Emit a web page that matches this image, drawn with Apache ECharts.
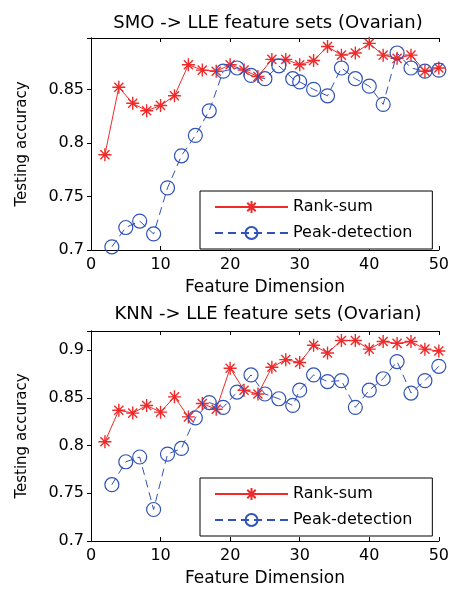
<!DOCTYPE html>
<html>
<head>
<meta charset="utf-8">
<script src="https://cdn.jsdelivr.net/npm/echarts@6/dist/echarts.min.js"></script>
<style>
  html, body { margin: 0; padding: 0; background: #fff; }
  #chart { width: 452px; height: 590px; }
</style>
</head>
<body>
<div id="chart"></div>
<script>
// feature dimensions
var rankX = [2, 4, 6, 8, 10, 12, 14, 16, 18, 20, 22, 24, 26, 28, 30, 32, 34, 36, 38, 40, 42, 44, 46, 48, 50];
var peakX = [3, 5, 7, 9, 11, 13, 15, 17, 19, 21, 23, 25, 27, 29, 30, 32, 34, 36, 38, 40, 42, 44, 46, 48, 50];

// SMO -> LLE
var smoRank = [0.789, 0.852, 0.837, 0.830, 0.835, 0.844, 0.873, 0.868, 0.867, 0.873, 0.868, 0.862, 0.878,
               0.878, 0.873, 0.877, 0.890, 0.882, 0.884, 0.893, 0.882, 0.879, 0.882, 0.867, 0.870];
var smoPeak = [0.703, 0.721, 0.727, 0.715, 0.758, 0.788, 0.807, 0.830, 0.867, 0.870, 0.863, 0.860, 0.872,
               0.860, 0.857, 0.850, 0.844, 0.870, 0.860, 0.853, 0.836, 0.884, 0.870, 0.867, 0.868];

// KNN -> LLE
var knnRank = [0.804, 0.837, 0.834, 0.842, 0.835, 0.851, 0.830, 0.844, 0.838, 0.881, 0.858, 0.854, 0.882,
               0.890, 0.887, 0.905, 0.897, 0.910, 0.910, 0.901, 0.909, 0.907, 0.909, 0.901, 0.899];
var knnPeak = [0.759, 0.783, 0.788, 0.733, 0.791, 0.797, 0.829, 0.845, 0.840, 0.856, 0.874, 0.854, 0.849,
               0.842, 0.858, 0.874, 0.867, 0.868, 0.840, 0.858, 0.870, 0.888, 0.855, 0.868, 0.883];

var titles = ['SMO -> LLE feature sets (Ovarian)', 'KNN -> LLE feature sets (Ovarian)'];
var seriesNames = ['Rank-sum', 'Peak-detection'];
var yMax = [0.898, 0.92];

var FONT = 'DejaVu Sans';
var RED = '#f02a2a';
var BLUE = '#3152b6';
var STAR = 'path://M5,0 L5,10 M0,5 L10,5 M1.5,1.5 L8.5,8.5 M1.5,8.5 L8.5,1.5';

function pairs(xs, ys) {
    return xs.map(function (x, i) { return [x, ys[i]]; });
}

var grids = [
    {left: 91, top: 38, width: 349, height: 212},
    {left: 91, top: 331, width: 349, height: 210}
];

var option = {
    animation: false,
    backgroundColor: '#fff',
    title: [],
    legend: [],
    grid: grids,
    xAxis: [],
    yAxis: [],
    series: []
};

var legendTops = [191, 478];
var titleTops = [9, 300];
var sets = [[smoRank, smoPeak], [knnRank, knnPeak]];

for (var g = 0; g < 2; g++) {
    option.title.push({
        text: titles[g],
        left: 263,
        top: titleTops[g],
        textAlign: 'center',
        textStyle: {fontFamily: FONT, fontSize: 18, fontWeight: 'normal', color: '#000'}
    });
    option.legend.push({
        data: seriesNames,
        orient: 'vertical',
        left: 200,
        top: legendTops[g],
        itemWidth: 73,
        itemHeight: 15,
        itemGap: 10,
        padding: [8, 20, 8, 14],
        backgroundColor: '#fff',
        borderColor: '#000',
        borderWidth: 1,
        borderRadius: 0,
        textStyle: {fontFamily: FONT, fontSize: 16, color: '#000'}
    });
    // bottom + top x axes
    option.xAxis.push({
        type: 'value', gridIndex: g, min: 0, max: 50, interval: 10,
        name: 'Feature Dimension', nameLocation: 'middle', nameGap: 29,
        nameTextStyle: {fontFamily: FONT, fontSize: 17, color: '#000'},
        axisLine: {show: true, lineStyle: {color: '#000', width: 1}},
        axisTick: {inside: true, length: 4, lineStyle: {color: '#000'}},
        axisLabel: {fontFamily: FONT, fontSize: 16, color: '#000', margin: 7},
        splitLine: {show: false}
    });
    option.xAxis.push({
        type: 'value', gridIndex: g, position: 'top', min: 0, max: 50, interval: 10,
        axisLine: {show: true, lineStyle: {color: '#000', width: 1}},
        axisTick: {inside: true, length: 4, lineStyle: {color: '#000'}},
        axisLabel: {show: false},
        splitLine: {show: false}
    });
    // left + right y axes
    option.yAxis.push({
        type: 'value', gridIndex: g, min: 0.7, max: yMax[g], interval: 0.05,
        name: 'Testing accuracy', nameLocation: 'middle', nameGap: 61,
        nameTextStyle: {fontFamily: FONT, fontSize: 15, color: '#000'},
        axisLine: {show: true, lineStyle: {color: '#000', width: 1}},
        axisTick: {inside: false, length: 4, lineStyle: {color: '#000'}},
        axisLabel: {fontFamily: FONT, fontSize: 16, color: '#000', margin: 7, showMaxLabel: false},
        splitLine: {show: false}
    });
    option.yAxis.push({
        type: 'value', gridIndex: g, position: 'right', min: 0.7, max: yMax[g], interval: 0.05,
        axisLine: {show: true, lineStyle: {color: '#000', width: 1}},
        axisTick: {inside: true, length: 4, lineStyle: {color: '#000'}},
        axisLabel: {show: false},
        splitLine: {show: false}
    });

    option.series.push({
        name: seriesNames[0],
        type: 'line',
        xAxisIndex: g * 2,
        yAxisIndex: g * 2,
        data: pairs(rankX, sets[g][0]),
        symbol: STAR,
        symbolSize: 13,
        lineStyle: {color: RED, width: 1},
        itemStyle: {color: RED, borderColor: RED, borderWidth: 1.4}
    });
    option.series.push({
        name: seriesNames[1],
        type: 'line',
        xAxisIndex: g * 2,
        yAxisIndex: g * 2,
        data: pairs(peakX, sets[g][1]),
        symbol: 'circle',
        symbolSize: 14,
        lineStyle: {color: BLUE, width: 1, type: [8, 5]},
        itemStyle: {color: 'rgba(255,255,255,0)', borderColor: BLUE, borderWidth: 1.2}
    });
}

var chart = echarts.init(document.getElementById('chart'));
chart.setOption(option);
</script>
</body>
</html>
